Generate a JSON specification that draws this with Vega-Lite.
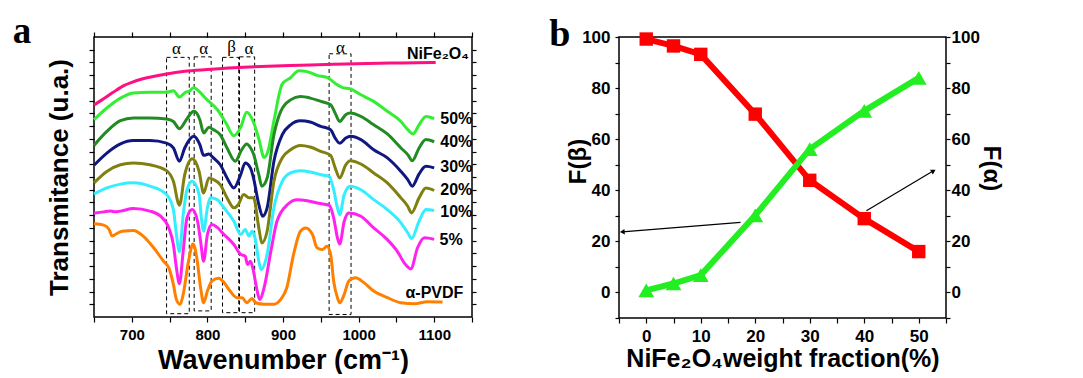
{
 "$schema": "https://vega.github.io/schema/vega-lite/v6.json",
 "background": "white",
 "padding": {"left": 11, "top": 12, "right": 5, "bottom": 0},
 "bounds": "flush",
 "spacing": 147,
 "config": {
  "view": {"stroke": "black", "strokeWidth": 1.5},
  "font": "Liberation Sans",
  "axis": {"domain": false, "grid": false, "tickColor": "black", "tickWidth": 1.2, "labelColor": "black", "labelFont": "Liberation Sans", "labelFontWeight": "bold", "titleFont": "Liberation Sans", "titleFontWeight": "bold", "titleColor": "black", "labelOverlap": false, "labelFlush": false, "labelBound": false}
 },
 "datasets": {
  "spectra": [
   {"s":"NiFe2O4","wn":650,"t":8.33},{"s":"NiFe2O4","wn":660,"t":8.52},{"s":"NiFe2O4","wn":670,"t":8.72},{"s":"NiFe2O4","wn":680,"t":8.92},{"s":"NiFe2O4","wn":690,"t":9.1},{"s":"NiFe2O4","wn":700,"t":9.22},{"s":"NiFe2O4","wn":711,"t":9.33},{"s":"NiFe2O4","wn":725,"t":9.43},{"s":"NiFe2O4","wn":746,"t":9.55},{"s":"NiFe2O4","wn":770,"t":9.65},{"s":"NiFe2O4","wn":800,"t":9.72},{"s":"NiFe2O4","wn":835,"t":9.79},{"s":"NiFe2O4","wn":880,"t":9.85},{"s":"NiFe2O4","wn":923,"t":9.89},{"s":"NiFe2O4","wn":967,"t":9.93},{"s":"NiFe2O4","wn":1012,"t":9.96},{"s":"NiFe2O4","wn":1056,"t":9.98},{"s":"NiFe2O4","wn":1102,"t":10.0},

   {"s":"50%","wn":650,"t":7.75},{"s":"50%","wn":667,"t":8.21},{"s":"50%","wn":685,"t":8.6},{"s":"50%","wn":702,"t":8.8},{"s":"50%","wn":724,"t":8.83},{"s":"50%","wn":746,"t":8.83},{"s":"50%","wn":755,"t":8.89},{"s":"50%","wn":763,"t":8.64},{"s":"50%","wn":771,"t":8.83},{"s":"50%","wn":776,"t":8.87},{"s":"50%","wn":782,"t":9.02},{"s":"50%","wn":788,"t":8.89},{"s":"50%","wn":799,"t":8.55},{"s":"50%","wn":813,"t":8.15},{"s":"50%","wn":824,"t":7.65},{"s":"50%","wn":835,"t":7.12},{"s":"50%","wn":844,"t":7.45},{"s":"50%","wn":852,"t":8.04},{"s":"50%","wn":861,"t":7.65},{"s":"50%","wn":868,"t":7.0},{"s":"50%","wn":875,"t":6.27},{"s":"50%","wn":880,"t":6.5},{"s":"50%","wn":888,"t":7.71},{"s":"50%","wn":899,"t":9.15},{"s":"50%","wn":910,"t":9.4},{"s":"50%","wn":921,"t":9.67},{"s":"50%","wn":932,"t":9.64},{"s":"50%","wn":945,"t":9.49},{"s":"50%","wn":958,"t":9.41},{"s":"50%","wn":972,"t":9.12},{"s":"50%","wn":978,"t":9.02},{"s":"50%","wn":989,"t":8.96},{"s":"50%","wn":1003,"t":8.73},{"s":"50%","wn":1020,"t":8.47},{"s":"50%","wn":1038,"t":8.08},{"s":"50%","wn":1056,"t":7.68},{"s":"50%","wn":1065,"t":7.36},{"s":"50%","wn":1072,"t":7.19},{"s":"50%","wn":1080,"t":7.55},{"s":"50%","wn":1089,"t":7.88},{"s":"50%","wn":1100,"t":7.79},

   {"s":"40%","wn":650,"t":6.74},{"s":"40%","wn":667,"t":7.29},{"s":"40%","wn":685,"t":7.71},{"s":"40%","wn":702,"t":7.82},{"s":"40%","wn":724,"t":7.82},{"s":"40%","wn":746,"t":7.78},{"s":"40%","wn":755,"t":7.68},{"s":"40%","wn":763,"t":7.4},{"s":"40%","wn":773,"t":7.79},{"s":"40%","wn":782,"t":8.08},{"s":"40%","wn":790,"t":7.75},{"s":"40%","wn":795,"t":7.23},{"s":"40%","wn":802,"t":7.45},{"s":"40%","wn":808,"t":7.36},{"s":"40%","wn":817,"t":7.16},{"s":"40%","wn":826,"t":6.64},{"s":"40%","wn":837,"t":6.12},{"s":"40%","wn":845,"t":6.55},{"s":"40%","wn":852,"t":6.8},{"s":"40%","wn":857,"t":6.65},{"s":"40%","wn":861,"t":6.4},{"s":"40%","wn":868,"t":5.59},{"s":"40%","wn":872,"t":5.14},{"s":"40%","wn":879,"t":5.46},{"s":"40%","wn":888,"t":7.16},{"s":"40%","wn":897,"t":8.08},{"s":"40%","wn":910,"t":8.53},{"s":"40%","wn":923,"t":8.66},{"s":"40%","wn":936,"t":8.6},{"s":"40%","wn":950,"t":8.47},{"s":"40%","wn":963,"t":8.34},{"s":"40%","wn":969,"t":8.01},{"s":"40%","wn":975,"t":7.68},{"s":"40%","wn":983,"t":7.95},{"s":"40%","wn":989,"t":8.01},{"s":"40%","wn":1003,"t":7.88},{"s":"40%","wn":1020,"t":7.55},{"s":"40%","wn":1038,"t":7.19},{"s":"40%","wn":1056,"t":6.64},{"s":"40%","wn":1065,"t":6.38},{"s":"40%","wn":1071,"t":6.14},{"s":"40%","wn":1080,"t":6.64},{"s":"40%","wn":1089,"t":6.97},{"s":"40%","wn":1100,"t":6.88},

   {"s":"30%","wn":650,"t":5.96},{"s":"30%","wn":667,"t":6.44},{"s":"30%","wn":685,"t":6.8},{"s":"30%","wn":702,"t":6.93},{"s":"30%","wn":724,"t":6.93},{"s":"30%","wn":746,"t":6.83},{"s":"30%","wn":755,"t":6.64},{"s":"30%","wn":763,"t":6.12},{"s":"30%","wn":770,"t":6.64},{"s":"30%","wn":782,"t":7.1},{"s":"30%","wn":790,"t":6.77},{"s":"30%","wn":795,"t":6.35},{"s":"30%","wn":802,"t":6.4},{"s":"30%","wn":808,"t":6.25},{"s":"30%","wn":817,"t":5.98},{"s":"30%","wn":826,"t":5.46},{"s":"30%","wn":835,"t":5.07},{"s":"30%","wn":844,"t":5.59},{"s":"30%","wn":850,"t":6.05},{"s":"30%","wn":857,"t":5.85},{"s":"30%","wn":861,"t":5.46},{"s":"30%","wn":868,"t":4.42},{"s":"30%","wn":873,"t":3.96},{"s":"30%","wn":879,"t":4.29},{"s":"30%","wn":888,"t":6.12},{"s":"30%","wn":899,"t":7.16},{"s":"30%","wn":910,"t":7.55},{"s":"30%","wn":923,"t":7.71},{"s":"30%","wn":936,"t":7.66},{"s":"30%","wn":950,"t":7.49},{"s":"30%","wn":963,"t":7.36},{"s":"30%","wn":969,"t":7.03},{"s":"30%","wn":975,"t":6.83},{"s":"30%","wn":983,"t":7.03},{"s":"30%","wn":989,"t":7.1},{"s":"30%","wn":1003,"t":6.97},{"s":"30%","wn":1020,"t":6.57},{"s":"30%","wn":1038,"t":6.25},{"s":"30%","wn":1056,"t":5.72},{"s":"30%","wn":1065,"t":5.4},{"s":"30%","wn":1071,"t":5.14},{"s":"30%","wn":1080,"t":5.62},{"s":"30%","wn":1089,"t":5.92},{"s":"30%","wn":1100,"t":5.86},

   {"s":"20%","wn":650,"t":5.27},{"s":"20%","wn":667,"t":5.72},{"s":"20%","wn":685,"t":5.98},{"s":"20%","wn":702,"t":6.05},{"s":"20%","wn":724,"t":5.98},{"s":"20%","wn":746,"t":5.75},{"s":"20%","wn":755,"t":5.33},{"s":"20%","wn":763,"t":4.39},{"s":"20%","wn":770,"t":5.59},{"s":"20%","wn":780,"t":6.22},{"s":"20%","wn":789,"t":5.72},{"s":"20%","wn":795,"t":4.87},{"s":"20%","wn":802,"t":5.46},{"s":"20%","wn":808,"t":5.4},{"s":"20%","wn":817,"t":5.2},{"s":"20%","wn":826,"t":4.68},{"s":"20%","wn":835,"t":4.29},{"s":"20%","wn":841,"t":4.42},{"s":"20%","wn":848,"t":4.81},{"s":"20%","wn":855,"t":4.68},{"s":"20%","wn":861,"t":4.68},{"s":"20%","wn":868,"t":3.5},{"s":"20%","wn":872,"t":2.91},{"s":"20%","wn":879,"t":3.37},{"s":"20%","wn":888,"t":5.33},{"s":"20%","wn":899,"t":6.25},{"s":"20%","wn":910,"t":6.57},{"s":"20%","wn":923,"t":6.74},{"s":"20%","wn":936,"t":6.68},{"s":"20%","wn":950,"t":6.51},{"s":"20%","wn":963,"t":6.35},{"s":"20%","wn":969,"t":5.86},{"s":"20%","wn":975,"t":5.46},{"s":"20%","wn":983,"t":5.98},{"s":"20%","wn":989,"t":6.14},{"s":"20%","wn":1003,"t":6.01},{"s":"20%","wn":1020,"t":5.66},{"s":"20%","wn":1038,"t":5.27},{"s":"20%","wn":1056,"t":4.68},{"s":"20%","wn":1065,"t":4.35},{"s":"20%","wn":1070,"t":4.09},{"s":"20%","wn":1080,"t":4.68},{"s":"20%","wn":1089,"t":5.07},{"s":"20%","wn":1100,"t":4.97},

   {"s":"10%","wn":650,"t":4.83},{"s":"10%","wn":667,"t":5.07},{"s":"10%","wn":685,"t":5.22},{"s":"10%","wn":702,"t":5.27},{"s":"10%","wn":724,"t":5.14},{"s":"10%","wn":746,"t":4.81},{"s":"10%","wn":755,"t":4.22},{"s":"10%","wn":759,"t":3.24},{"s":"10%","wn":763,"t":2.56},{"s":"10%","wn":768,"t":4.02},{"s":"10%","wn":773,"t":5.0},{"s":"10%","wn":780,"t":5.33},{"s":"10%","wn":789,"t":4.81},{"s":"10%","wn":792,"t":3.9},{"s":"10%","wn":795,"t":3.37},{"s":"10%","wn":800,"t":4.29},{"s":"10%","wn":804,"t":4.68},{"s":"10%","wn":813,"t":4.61},{"s":"10%","wn":822,"t":4.29},{"s":"10%","wn":835,"t":3.76},{"s":"10%","wn":844,"t":3.24},{"s":"10%","wn":850,"t":3.44},{"s":"10%","wn":855,"t":3.18},{"s":"10%","wn":859,"t":3.37},{"s":"10%","wn":863,"t":3.11},{"s":"10%","wn":868,"t":2.19},{"s":"10%","wn":871,"t":1.87},{"s":"10%","wn":879,"t":2.46},{"s":"10%","wn":888,"t":4.29},{"s":"10%","wn":899,"t":5.33},{"s":"10%","wn":910,"t":5.66},{"s":"10%","wn":923,"t":5.75},{"s":"10%","wn":936,"t":5.7},{"s":"10%","wn":950,"t":5.59},{"s":"10%","wn":961,"t":5.53},{"s":"10%","wn":967,"t":5.0},{"s":"10%","wn":972,"t":4.29},{"s":"10%","wn":975,"t":4.02},{"s":"10%","wn":981,"t":4.81},{"s":"10%","wn":989,"t":5.14},{"s":"10%","wn":1003,"t":5.0},{"s":"10%","wn":1020,"t":4.61},{"s":"10%","wn":1038,"t":4.22},{"s":"10%","wn":1056,"t":3.7},{"s":"10%","wn":1065,"t":3.31},{"s":"10%","wn":1070,"t":3.08},{"s":"10%","wn":1080,"t":3.76},{"s":"10%","wn":1089,"t":4.22},{"s":"10%","wn":1100,"t":4.18},

   {"s":"5%","wn":650,"t":4.08},{"s":"5%","wn":663,"t":4.13},{"s":"5%","wn":672,"t":4.16},{"s":"5%","wn":678,"t":4.13},{"s":"5%","wn":685,"t":4.16},{"s":"5%","wn":702,"t":4.26},{"s":"5%","wn":724,"t":4.16},{"s":"5%","wn":738,"t":3.96},{"s":"5%","wn":749,"t":3.5},{"s":"5%","wn":755,"t":2.85},{"s":"5%","wn":759,"t":1.93},{"s":"5%","wn":763,"t":1.31},{"s":"5%","wn":768,"t":2.59},{"s":"5%","wn":773,"t":3.9},{"s":"5%","wn":780,"t":4.22},{"s":"5%","wn":787,"t":3.76},{"s":"5%","wn":791,"t":2.98},{"s":"5%","wn":795,"t":2.19},{"s":"5%","wn":800,"t":3.24},{"s":"5%","wn":806,"t":3.63},{"s":"5%","wn":813,"t":3.52},{"s":"5%","wn":822,"t":3.24},{"s":"5%","wn":835,"t":2.85},{"s":"5%","wn":844,"t":2.46},{"s":"5%","wn":850,"t":2.39},{"s":"5%","wn":853,"t":2.06},{"s":"5%","wn":857,"t":2.19},{"s":"5%","wn":860,"t":1.93},{"s":"5%","wn":865,"t":1.15},{"s":"5%","wn":869,"t":0.69},{"s":"5%","wn":875,"t":1.15},{"s":"5%","wn":884,"t":2.59},{"s":"5%","wn":892,"t":3.76},{"s":"5%","wn":906,"t":4.42},{"s":"5%","wn":919,"t":4.61},{"s":"5%","wn":932,"t":4.57},{"s":"5%","wn":945,"t":4.48},{"s":"5%","wn":961,"t":4.39},{"s":"5%","wn":967,"t":3.9},{"s":"5%","wn":972,"t":3.11},{"s":"5%","wn":975,"t":2.87},{"s":"5%","wn":981,"t":3.76},{"s":"5%","wn":987,"t":4.09},{"s":"5%","wn":1003,"t":3.96},{"s":"5%","wn":1020,"t":3.5},{"s":"5%","wn":1038,"t":3.04},{"s":"5%","wn":1051,"t":2.59},{"s":"5%","wn":1062,"t":2.06},{"s":"5%","wn":1069,"t":1.89},{"s":"5%","wn":1078,"t":2.72},{"s":"5%","wn":1087,"t":3.11},{"s":"5%","wn":1100,"t":3.05},

   {"s":"α-PVDF","wn":650,"t":3.66},{"s":"α-PVDF","wn":663,"t":3.61},{"s":"α-PVDF","wn":670,"t":3.44},{"s":"α-PVDF","wn":674,"t":3.18},{"s":"α-PVDF","wn":678,"t":3.24},{"s":"α-PVDF","wn":687,"t":3.37},{"s":"α-PVDF","wn":702,"t":3.4},{"s":"α-PVDF","wn":715,"t":3.18},{"s":"α-PVDF","wn":729,"t":2.72},{"s":"α-PVDF","wn":742,"t":2.19},{"s":"α-PVDF","wn":749,"t":1.93},{"s":"α-PVDF","wn":755,"t":1.28},{"s":"α-PVDF","wn":759,"t":0.69},{"s":"α-PVDF","wn":764,"t":0.5},{"s":"α-PVDF","wn":768,"t":0.89},{"s":"α-PVDF","wn":775,"t":2.19},{"s":"α-PVDF","wn":781,"t":2.87},{"s":"α-PVDF","wn":786,"t":2.32},{"s":"α-PVDF","wn":791,"t":1.15},{"s":"α-PVDF","wn":795,"t":0.56},{"s":"α-PVDF","wn":800,"t":1.02},{"s":"α-PVDF","wn":806,"t":1.41},{"s":"α-PVDF","wn":815,"t":1.52},{"s":"α-PVDF","wn":822,"t":1.35},{"s":"α-PVDF","wn":830,"t":1.02},{"s":"α-PVDF","wn":839,"t":0.76},{"s":"α-PVDF","wn":846,"t":0.76},{"s":"α-PVDF","wn":852,"t":0.56},{"s":"α-PVDF","wn":859,"t":0.73},{"s":"α-PVDF","wn":864,"t":0.56},{"s":"α-PVDF","wn":875,"t":0.5},{"s":"α-PVDF","wn":888,"t":0.5},{"s":"α-PVDF","wn":897,"t":0.69},{"s":"α-PVDF","wn":905,"t":1.15},{"s":"α-PVDF","wn":914,"t":2.46},{"s":"α-PVDF","wn":923,"t":3.37},{"s":"α-PVDF","wn":930,"t":3.5},{"s":"α-PVDF","wn":939,"t":3.24},{"s":"α-PVDF","wn":945,"t":2.72},{"s":"α-PVDF","wn":952,"t":2.65},{"s":"α-PVDF","wn":958,"t":2.78},{"s":"α-PVDF","wn":963,"t":2.46},{"s":"α-PVDF","wn":967,"t":1.41},{"s":"α-PVDF","wn":972,"t":0.76},{"s":"α-PVDF","wn":975,"t":0.56},{"s":"α-PVDF","wn":981,"t":0.89},{"s":"α-PVDF","wn":987,"t":1.41},{"s":"α-PVDF","wn":996,"t":1.54},{"s":"α-PVDF","wn":1007,"t":1.35},{"s":"α-PVDF","wn":1020,"t":1.02},{"s":"α-PVDF","wn":1038,"t":0.76},{"s":"α-PVDF","wn":1056,"t":0.56},{"s":"α-PVDF","wn":1074,"t":0.52},{"s":"α-PVDF","wn":1091,"t":0.6},{"s":"α-PVDF","wn":1111,"t":0.59}
  ],
  "boxes": [
   {"w1":746,"w2":776,"t1":0.13,"t2":10.2},
   {"w1":782.5,"w2":805,"t1":0.24,"t2":10.22},
   {"w1":820,"w2":841.5,"t1":0.17,"t2":10.2},
   {"w1":842.5,"w2":862.5,"t1":0.17,"t2":10.22},
   {"w1":961,"w2":990,"t1":0.1,"t2":10.34}
  ],
  "boxlabels": [
   {"lab":"α","w":759,"t":10.52},
   {"lab":"α","w":795,"t":10.52},
   {"lab":"β","w":832,"t":10.62},
   {"lab":"α","w":855,"t":10.52},
   {"lab":"α","w":976,"t":10.58}
  ],
  "serieslabels": [
   {"lab":"NiFe₂O₄","w":1064,"t":10.33},
   {"lab":"50%","w":1108,"t":7.79},
   {"lab":"40%","w":1108,"t":6.87},
   {"lab":"30%","w":1108,"t":5.89},
   {"lab":"20%","w":1108,"t":5.0},
   {"lab":"10%","w":1108,"t":4.13},
   {"lab":"5%","w":1107,"t":3.02},
   {"lab":"α-PVDF","w":1062,"t":0.95}
  ],
  "frac": [
   {"w":0,"fb":99.2,"fa":0.8},
   {"w":5,"fb":96.5,"fa":3.5},
   {"w":10,"fb":93.2,"fa":6.8},
   {"w":20,"fb":69.8,"fa":30.2},
   {"w":30,"fb":43.9,"fa":56.1},
   {"w":40,"fb":28.9,"fa":71.1},
   {"w":50,"fb":16,"fa":84}
  ],
  "arrows": [
   {"id":"left","x0":17.3,"y0":27.4,"x1":-4.4,"y1":23.7},
   {"id":"right","x0":40.4,"y0":32,"x1":52.7,"y1":47.6}
  ]
 },
 "hconcat": [
  {
   "width": 378,
   "height": 280,
   "resolve": {"axis": {"x": "independent", "y": "independent"}},
   "layer": [
    {
     "data": {"name": "boxes"},
     "mark": {"type": "rect", "filled": false, "stroke": "black", "strokeWidth": 1, "strokeDash": [4, 3]},
     "encoding": {
      "x": {"field": "w1", "type": "quantitative", "scale": {"domain": [650, 1150], "nice": false, "zero": false},
            "axis": {"orient": "bottom", "values": [650,700,750,800,850,900,950,1000,1050,1100,1150], "format": "d", "labelExpr": "datum.value % 100 === 0 && datum.value >= 700 && datum.value <= 1100 ? datum.label : ''", "labelFontSize": 15, "tickSize": 5, "labelPadding": 5, "title": "Wavenumber (cm⁻¹)", "titleFontSize": 27, "titlePadding": 5}},
      "x2": {"field": "w2"},
      "y": {"field": "t1", "type": "quantitative", "scale": {"domain": [0, 11], "nice": false, "zero": false},
            "axis": {"orient": "left", "values": [0.5,1,1.5,2,2.5,3,3.5,4,4.5,5,5.5,6,6.5,7,7.5,8,8.5,9,9.5,10,10.5], "labels": false, "tickSize": 5, "title": "Transmitance (u.a.)", "titleFontSize": 26, "titlePadding": 16}},
      "y2": {"field": "t2"}
     }
    },
    {
     "data": {"name": "spectra"},
     "mark": {"type": "line", "strokeWidth": 3, "interpolate": "monotone"},
     "encoding": {
      "x": {"field": "wn", "type": "quantitative", "scale": {"domain": [650, 1150], "nice": false, "zero": false}, "axis": null},
      "y": {"field": "t", "type": "quantitative", "scale": {"domain": [0, 11], "nice": false, "zero": false}, "axis": null},
      "color": {"field": "s", "type": "nominal", "legend": null,
                "scale": {"domain": ["NiFe2O4","50%","40%","30%","20%","10%","5%","α-PVDF"],
                          "range": ["#FF1080","#33EE33","#228B22","#101880","#808010","#33EEFF","#FF22EE","#FF8000"]}}
     }
    },
    {
     "data": {"name": "boxlabels"},
     "mark": {"type": "text", "font": "Liberation Serif", "fontSize": 17, "color": "black", "align": "center", "baseline": "middle"},
     "encoding": {
      "x": {"field": "w", "type": "quantitative", "scale": {"domain": [650, 1150], "nice": false, "zero": false}, "axis": null},
      "y": {"field": "t", "type": "quantitative", "scale": {"domain": [0, 11], "nice": false, "zero": false}, "axis": null},
      "text": {"field": "lab"}
     }
    },
    {
     "data": {"values": [{"lab": "a", "w": 542.5, "t": 10.75}]},
     "mark": {"type": "text", "font": "Liberation Serif", "fontWeight": "bold", "fontSize": 37, "color": "black", "align": "left", "baseline": "alphabetic"},
     "encoding": {
      "x": {"field": "w", "type": "quantitative", "scale": {"domain": [650, 1150], "nice": false, "zero": false}, "axis": null},
      "y": {"field": "t", "type": "quantitative", "scale": {"domain": [0, 11], "nice": false, "zero": false}, "axis": null},
      "text": {"field": "lab"}
     }
    },
    {
     "data": {"name": "serieslabels"},
     "mark": {"type": "text", "font": "Liberation Sans", "fontWeight": "bold", "fontSize": 16, "color": "black", "align": "left", "baseline": "middle"},
     "encoding": {
      "x": {"field": "w", "type": "quantitative", "scale": {"domain": [650, 1150], "nice": false, "zero": false},
            "axis": {"orient": "top", "values": [650,700,750,800,850,900,950,1000,1050,1100,1150], "labels": false, "tickSize": 5, "title": null}},
      "y": {"field": "t", "type": "quantitative", "scale": {"domain": [0, 11], "nice": false, "zero": false},
            "axis": {"orient": "right", "values": [0.5,1,1.5,2,2.5,3,3.5,4,4.5,5,5.5,6,6.5,7,7.5,8,8.5,9,9.5,10,10.5], "labels": false, "tickSize": 4, "title": null}},
      "text": {"field": "lab"}
     }
    }
   ]
  },
  {
   "width": 327,
   "height": 281,
   "resolve": {"axis": {"x": "independent", "y": "independent"}},
   "layer": [
    {
     "data": {"name": "frac"},
     "mark": {"type": "line", "color": "#FF0000", "strokeWidth": 6},
     "encoding": {
      "x": {"field": "w", "type": "quantitative", "scale": {"domain": [-5, 55], "nice": false, "zero": false},
            "axis": {"orient": "bottom", "values": [-5,0,5,10,15,20,25,30,35,40,45,50,55], "labelExpr": "datum.value % 10 === 0 ? datum.label : ''", "labelFontSize": 17, "tickSize": 5, "labelPadding": 5, "title": "NiFe₂O₄weight fraction(%)", "titleFontSize": 25, "titlePadding": 2}},
      "y": {"field": "fb", "type": "quantitative", "scale": {"domain": [-10, 100], "nice": false, "zero": false},
            "axis": {"orient": "left", "values": [-10,0,10,20,30,40,50,60,70,80,90,100], "labelExpr": "datum.value % 20 === 0 ? datum.label : ''", "labelFontSize": 17, "tickSize": 4, "labelPadding": 5, "title": "F(β)", "titleFontSize": 24, "titleAngle": 270, "titleBaseline": "bottom", "titleX": -29, "titleY": 124}}
     }
    },
    {
     "data": {"name": "frac"},
     "mark": {"type": "point", "shape": "square", "filled": true, "color": "#FF0000", "opacity": 1, "size": 180},
     "encoding": {
      "x": {"field": "w", "type": "quantitative", "scale": {"domain": [-5, 55], "nice": false, "zero": false}, "axis": null},
      "y": {"field": "fb", "type": "quantitative", "scale": {"domain": [-10, 100], "nice": false, "zero": false}, "axis": null}
     }
    },
    {
     "data": {"name": "arrows"},
     "mark": {"type": "rule", "color": "black", "strokeWidth": 1.2},
     "encoding": {
      "x": {"field": "x0", "type": "quantitative", "scale": {"domain": [-5, 55], "nice": false, "zero": false}, "axis": null},
      "x2": {"field": "x1"},
      "y": {"field": "y0", "type": "quantitative", "scale": {"domain": [-10, 100], "nice": false, "zero": false}, "axis": null},
      "y2": {"field": "y1"}
     }
    },
    {
     "data": {"name": "arrows"},
     "transform": [{"filter": "datum.id === 'left'"}],
     "mark": {"type": "point", "shape": "triangle-right", "filled": true, "color": "black", "opacity": 1, "size": 30, "angle": 175.5},
     "encoding": {
      "x": {"field": "x1", "type": "quantitative", "scale": {"domain": [-5, 55], "nice": false, "zero": false}, "axis": null},
      "y": {"field": "y1", "type": "quantitative", "scale": {"domain": [-10, 100], "nice": false, "zero": false}, "axis": null}
     }
    },
    {
     "data": {"name": "arrows"},
     "transform": [{"filter": "datum.id === 'right'"}],
     "mark": {"type": "point", "shape": "triangle-right", "filled": true, "color": "black", "opacity": 1, "size": 30, "angle": 329.3},
     "encoding": {
      "x": {"field": "x1", "type": "quantitative", "scale": {"domain": [-5, 55], "nice": false, "zero": false}, "axis": null},
      "y": {"field": "y1", "type": "quantitative", "scale": {"domain": [-10, 100], "nice": false, "zero": false}, "axis": null}
     }
    },
    {
     "data": {"name": "frac"},
     "mark": {"type": "line", "color": "#22EE22", "strokeWidth": 6},
     "encoding": {
      "x": {"field": "w", "type": "quantitative", "scale": {"domain": [-5, 55], "nice": false, "zero": false}, "axis": null},
      "y": {"field": "fa", "type": "quantitative", "scale": {"domain": [-10, 100], "nice": false, "zero": false},
            "axis": {"orient": "right", "values": [-10,0,10,20,30,40,50,60,70,80,90,100], "labelExpr": "datum.value % 20 === 0 ? datum.label : ''", "labelFontSize": 17, "tickSize": 4, "labelPadding": 1, "title": "F(α)", "titleFontSize": 24, "titleAngle": 90, "titleBaseline": "bottom", "titleX": 32, "titleY": 131}}
     }
    },
    {
     "data": {"name": "frac"},
     "mark": {"type": "point", "shape": "triangle-up", "filled": true, "color": "#22EE22", "opacity": 1, "size": 250},
     "encoding": {
      "x": {"field": "w", "type": "quantitative", "scale": {"domain": [-5, 55], "nice": false, "zero": false}, "axis": null},
      "y": {"field": "fa", "type": "quantitative", "scale": {"domain": [-10, 100], "nice": false, "zero": false}, "axis": null}
     }
    },
    {
     "data": {"values": [{"lab": "b", "w": -17.8, "t": 96.6}]},
     "mark": {"type": "text", "font": "Liberation Serif", "fontWeight": "bold", "fontSize": 38, "color": "black", "align": "left", "baseline": "alphabetic"},
     "encoding": {
      "x": {"field": "w", "type": "quantitative", "scale": {"domain": [-5, 55], "nice": false, "zero": false}, "axis": null},
      "y": {"field": "t", "type": "quantitative", "scale": {"domain": [-10, 100], "nice": false, "zero": false}, "axis": null},
      "text": {"field": "lab"}
     }
    }
   ]
  }
 ]
}
